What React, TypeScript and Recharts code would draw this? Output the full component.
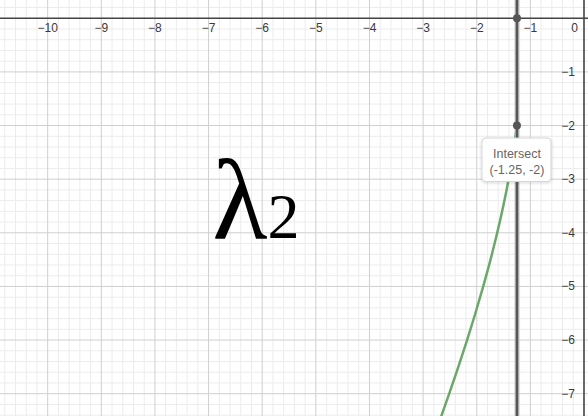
import React from 'react';
import { ComposedChart, XAxis, YAxis, Line, ReferenceLine, ReferenceDot } from 'recharts';

const X_DOMAIN: [number, number] = [-10.889, 0.0746];
const Y_DOMAIN: [number, number] = [-7.416, 0.341];

const xTickLabels = [-10, -9, -8, -7, -6, -5, -4, -3, -2, -1];
const yTickLabels = [-1, -2, -3, -4, -5, -6, -7];
const originLabel = 0;

const curveX = [-2.69, -2.513, -2.343, -2.18, -2.025, -1.879, -1.743, -1.618, -1.505, -1.405, -1.32, -1.25];
const curveY = [-7.5, -7, -6.5, -6, -5.5, -5, -4.5, -4, -3.5, -3, -2.5, -2];

const verticalLineX = -1.25;
const intersectPoints = [
  { x: -1.25, y: 0 },
  { x: -1.25, y: -2 },
];
const intersect = { x: -1.25, y: -2, title: 'Intersect', text: '(-1.25, -2)' };
const annotation = { x: -6.12, y: -4.1, main: 'λ', sub: '2' };

const curveData = curveX.map((x, i) => ({ x, y: curveY[i] }));

const minorStep = 0.2;
const buildMinor = (lo: number, hi: number) => {
  const out: number[] = [];
  for (let k = Math.ceil(lo / minorStep); k <= Math.floor(hi / minorStep); k++) {
    const v = Math.round(k * minorStep * 1000) / 1000;
    if (Math.abs(v - Math.round(v)) > 1e-6) out.push(v);
  }
  return out;
};
const buildMajor = (lo: number, hi: number) => {
  const out: number[] = [];
  for (let v = Math.ceil(lo); v <= Math.floor(hi); v++) if (v !== 0) out.push(v);
  return out;
};
const minorX = buildMinor(X_DOMAIN[0], X_DOMAIN[1]);
const minorY = buildMinor(Y_DOMAIN[0], Y_DOMAIN[1]);
const majorX = buildMajor(X_DOMAIN[0], X_DOMAIN[1]);
const majorY = buildMajor(Y_DOMAIN[0], Y_DOMAIN[1]);

const labelFont = '"Liberation Sans", Arial, sans-serif';
const labelColor = '#3a3a3a';

const XLabel = (text: string) => (props: any) => (
  <text x={props.cx} y={props.cy + 14} textAnchor="middle" fontSize={12} fontFamily={labelFont} fill={labelColor}>
    {text}
  </text>
);
const YLabel = (text: string) => (props: any) => (
  <text x={props.cx - 9} y={props.cy + 4} textAnchor="end" fontSize={12} fontFamily={labelFont} fill={labelColor}>
    {text}
  </text>
);
const OriginLabel = (text: string) => (props: any) => (
  <text x={props.cx - 6} y={props.cy + 14} textAnchor="end" fontSize={12} fontFamily={labelFont} fill={labelColor}>
    {text}
  </text>
);
const fmt = (v: number) => (v < 0 ? '\u2212' + Math.abs(v) : String(v));

const TooltipBox = (props: any) => {
  const { cx, cy } = props;
  return (
    <g>
      <defs>
        <filter id="tipShadow" x="-20%" y="-20%" width="140%" height="160%">
          <feDropShadow dx="0" dy="1" stdDeviation="1.5" floodColor="#000" floodOpacity="0.18" />
        </filter>
      </defs>
      <rect x={cx - 35} y={cy + 12.5} width={69} height={43.5} rx={4} ry={4} fill="#fff" stroke="#d6d6d6" strokeWidth={1} filter="url(#tipShadow)" />
      <text x={cx} y={cy + 32} textAnchor="middle" fontSize={12.5} fontFamily={labelFont} fill="#666">
        {intersect.title}
      </text>
      <text x={cx} y={cy + 48} textAnchor="middle" fontSize={12.5} fontFamily={labelFont} fill="#666">
        {intersect.text}
      </text>
    </g>
  );
};

const LambdaLabel = (props: any) => {
  const { cx, cy } = props;
  return (
    <text x={cx} y={cy} textAnchor="middle" fontFamily='"Liberation Serif", "DejaVu Serif", serif' fill="#000">
      <tspan fontSize={114}>{annotation.main}</tspan>
      <tspan fontSize={64}>{annotation.sub}</tspan>
    </text>
  );
};

export default function App() {
  return (
    <div style={{ position: 'fixed', left: 0, top: 0, width: 588, height: 416, background: '#fff' }}>
      <ComposedChart width={588} height={416} margin={{ top: 0, right: 0, bottom: 0, left: 0 }}>
        <XAxis type="number" dataKey="x" domain={X_DOMAIN} allowDataOverflow hide />
        <YAxis type="number" dataKey="y" domain={Y_DOMAIN} allowDataOverflow hide />
        {minorX.map((v) => (
          <ReferenceLine key={'mx' + v} x={v} stroke="#ececec" strokeWidth={1} />
        ))}
        {minorY.map((v) => (
          <ReferenceLine key={'my' + v} y={v} stroke="#ececec" strokeWidth={1} />
        ))}
        {majorX.map((v) => (
          <ReferenceLine key={'Mx' + v} x={v} stroke="#cfcfcf" strokeWidth={1} />
        ))}
        {majorY.map((v) => (
          <ReferenceLine key={'My' + v} y={v} stroke="#cfcfcf" strokeWidth={1} />
        ))}
        <ReferenceLine x={0} stroke="#444" strokeWidth={1.6} />
        <ReferenceLine y={0} stroke="#444" strokeWidth={1.6} />
        {xTickLabels.map((v) => (
          <ReferenceDot key={'xl' + v} x={v} y={0} r={0} shape={XLabel(fmt(v))} />
        ))}
        {yTickLabels.map((v) => (
          <ReferenceDot key={'yl' + v} x={0} y={v} r={0} shape={YLabel(fmt(v))} />
        ))}
        <ReferenceDot x={0} y={0} r={0} shape={OriginLabel(String(originLabel))} />
        <Line
          data={curveData}
          dataKey="y"
          type="natural"
          stroke="#6aa86a"
          strokeWidth={2.5}
          dot={false}
          activeDot={false}
          isAnimationActive={false}
        />
        <ReferenceLine x={verticalLineX} stroke="#a8a8a8" strokeWidth={4.5} />
        <ReferenceLine x={verticalLineX} stroke="#555" strokeWidth={2} />
        {intersectPoints.map((p, i) => (
          <ReferenceDot key={'ip' + i} x={p.x} y={p.y} r={4} fill="#555" stroke="none" />
        ))}
        <ReferenceDot x={intersect.x} y={intersect.y} r={0} shape={TooltipBox} />
        <ReferenceDot x={annotation.x} y={annotation.y} r={0} shape={LambdaLabel} />
      </ComposedChart>
    </div>
  );
}
